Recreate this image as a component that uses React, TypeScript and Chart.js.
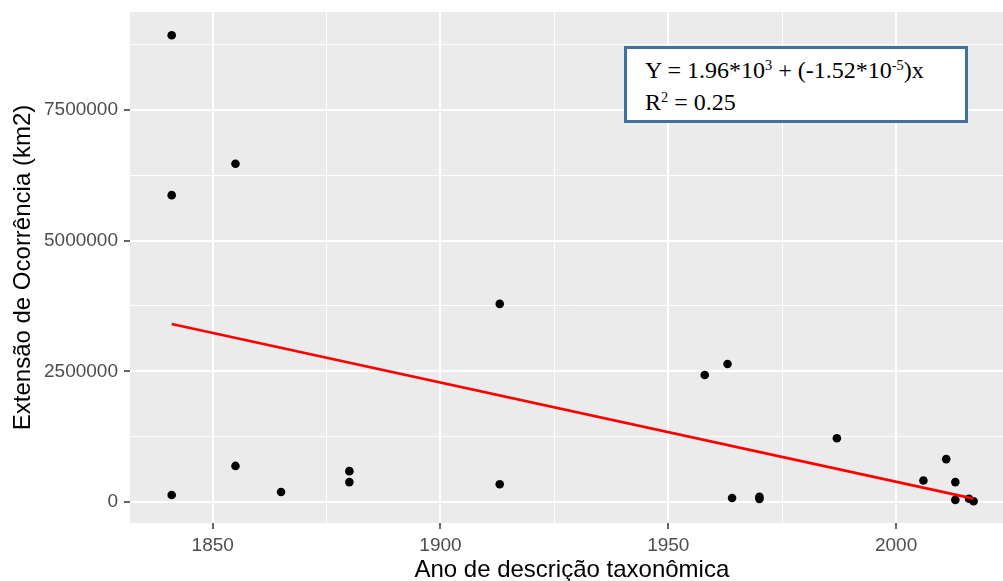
import React, { useEffect, useRef } from "react";
import { Chart, registerables } from "chart.js";

Chart.register(...registerables);

// ---- data ----
const years = [
  1841, 1841, 1841, 1855, 1855, 1865, 1880, 1880, 1913, 1913, 1958, 1963,
  1964, 1970, 1970, 1987, 2006, 2011, 2013, 2013, 2016, 2017,
];
const extents = [
  8930000, 5870000, 134000, 6470000, 690000, 190000, 590000, 380000, 3790000,
  340000, 2430000, 2640000, 77000, 100000, 60000, 1220000, 410000, 820000,
  380000, 40000, 63000, 13000,
];
const trendYears = [1841, 2017];
const trendValues = [3405000, 65000];

const xTicks = [1850, 1875, 1900, 1925, 1950, 1975, 2000, 2025];
const xLabels = [1850, 1900, 1950, 2000];
const yTicks = [0, 1250000, 2500000, 3750000, 5000000, 6250000, 7500000, 8750000];
const yLabels = [0, 2500000, 5000000, 7500000];

const X_MIN = 1831.85;
const X_MAX = 2025.81;
const Y_MIN = -402000;
const Y_MAX = 9374000;

const SANS = "'Liberation Sans', Arial, sans-serif";

const panelBg = {
  id: "panelBg",
  beforeDraw(chart: any) {
    const { ctx, chartArea } = chart;
    if (!chartArea) return;
    ctx.save();
    ctx.fillStyle = "#EBEBEB";
    ctx.fillRect(
      chartArea.left,
      chartArea.top,
      chartArea.right - chartArea.left,
      chartArea.bottom - chartArea.top
    );
    ctx.restore();
  },
};

export default function App() {
  const canvasRef = useRef<HTMLCanvasElement | null>(null);

  useEffect(() => {
    if (!canvasRef.current) return;
    const isMajor = (list: number[], v: any) =>
      v !== undefined && list.includes(v);

    const chart = new Chart(canvasRef.current, {
      type: "scatter",
      data: {
        datasets: [
          {
            type: "line",
            data: trendYears.map((x, i) => ({ x, y: trendValues[i] })),
            borderColor: "#FF0000",
            borderWidth: 2.8,
            pointRadius: 0,
            fill: false,
          } as any,
          {
            type: "scatter",
            data: years.map((x, i) => ({ x, y: extents[i] })),
            backgroundColor: "#000000",
            pointRadius: 4.3,
            pointHoverRadius: 4.3,
            pointBorderWidth: 0,
            borderWidth: 0,
          } as any,
        ],
      },
      options: {
        animation: false,
        responsive: true,
        maintainAspectRatio: false,
        layout: { padding: { top: 12, right: 1, left: 0, bottom: 0 } },
        plugins: {
          legend: { display: false },
          tooltip: { enabled: false },
          title: { display: false },
        },
        events: [],
        scales: {
          x: {
            type: "linear",
            min: X_MIN,
            max: X_MAX,
            afterBuildTicks: (s: any) => {
              s.ticks = xTicks.map((v) => ({ value: v }));
            },
            afterFit: (s: any) => {
              s.height = 62;
              s.paddingLeft = 0;
              s.paddingRight = 0;
              s.paddingTop = 0;
              s.paddingBottom = 0;
            },
            border: { display: false },
            grid: {
              color: "#FFFFFF",
              lineWidth: (c: any) => (isMajor(xLabels, c.tick?.value) ? 2 : 1),
              tickColor: (c: any) =>
                isMajor(xLabels, c.tick?.value) ? "#333333" : "rgba(0,0,0,0)",
              tickLength: 6,
              tickWidth: 1.5,
              drawTicks: true,
            },
            ticks: {
              autoSkip: false,
              maxRotation: 0,
              padding: 5,
              color: "#4D4D4D",
              font: { family: SANS, size: 19 },
              callback: (v: any) => (xLabels.includes(v) ? String(v) : ""),
            },
            title: {
              display: true,
              text: "Ano de descrição taxonômica",
              color: "#000000",
              font: { family: SANS, size: 24 },
              padding: { top: 0, bottom: 0 },
            },
          },
          y: {
            type: "linear",
            min: Y_MIN,
            max: Y_MAX,
            afterBuildTicks: (s: any) => {
              s.ticks = yTicks.map((v) => ({ value: v }));
            },
            afterFit: (s: any) => {
              s.width = 130;
              s.paddingLeft = 0;
              s.paddingRight = 0;
              s.paddingTop = 0;
              s.paddingBottom = 0;
            },
            border: { display: false },
            grid: {
              color: "#FFFFFF",
              lineWidth: (c: any) => (isMajor(yLabels, c.tick?.value) ? 2 : 1),
              tickColor: (c: any) =>
                isMajor(yLabels, c.tick?.value) ? "#333333" : "rgba(0,0,0,0)",
              tickLength: 6,
              tickWidth: 1.5,
              drawTicks: true,
            },
            ticks: {
              autoSkip: false,
              padding: 6,
              color: "#4D4D4D",
              font: { family: SANS, size: 19 },
              callback: (v: any) => (yLabels.includes(v) ? String(v) : ""),
            },
            title: {
              display: true,
              text: "Extensão de Ocorrência (km2)",
              color: "#000000",
              font: { family: SANS, size: 24 },
              padding: { top: 9, bottom: 0 },
            },
          },
        },
      },
      plugins: [panelBg],
    } as any);

    return () => {
      chart.destroy();
    };
  }, []);

  const sup: React.CSSProperties = {
    fontSize: "0.6em",
    position: "relative",
    top: "-0.55em",
  };

  return (
    <div
      style={{
        position: "fixed",
        left: 0,
        top: 0,
        width: 1003,
        height: 581,
        overflow: "hidden",
        background: "#FFFFFF",
      }}
    >
      <div style={{ position: "absolute", left: 0, top: 0, width: 1018, height: 585 }}>
        <canvas ref={canvasRef} />
      </div>
      <div
        style={{
          position: "absolute",
          left: 624,
          top: 46,
          width: 344,
          height: 77,
          boxSizing: "border-box",
          border: "3px solid #41719C",
          background: "#FFFFFF",
          fontFamily: "'Liberation Serif', 'Times New Roman', serif",
          fontSize: 24,
          lineHeight: "29px",
          color: "#000000",
          paddingLeft: 18,
          paddingTop: 7.4,
          whiteSpace: "nowrap",
        }}
      >
        <div>
          Y = 1.96*10<span style={sup}>3</span> + (-1.52*10<span style={sup}>-5</span>)x
        </div>
        <div>
          R<span style={sup}>2</span> = 0.25
        </div>
      </div>
    </div>
  );
}
